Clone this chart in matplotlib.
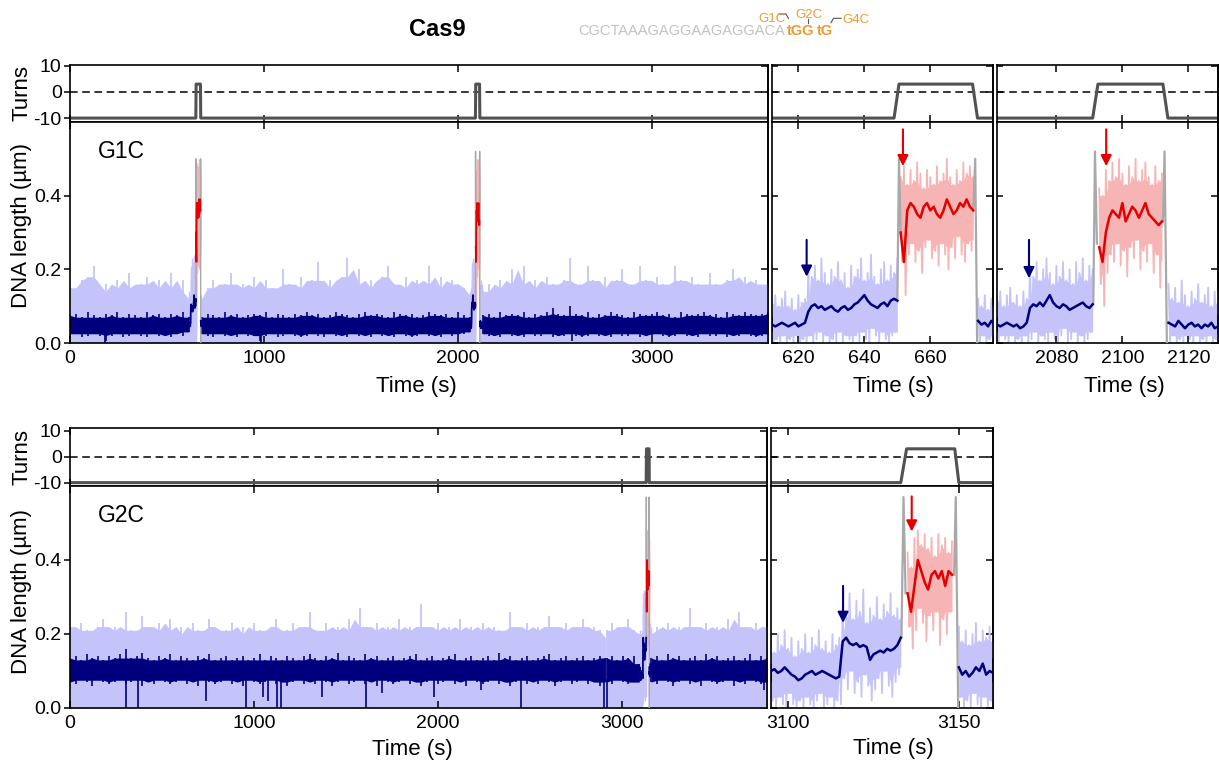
import numpy as np
import matplotlib.pyplot as plt
from matplotlib.lines import Line2D

plt.rcParams['font.family'] = ['Liberation Sans', 'DejaVu Sans']
plt.rcParams['axes.unicode_minus'] = False

W, H = 1219, 763

RAW_BLUE = '#c4c4fb'
NAVY = '#00007f'
RAW_RED = '#f7b4b4'
RED = '#e50000'
GREY = '#a9a9a9'
TURN = '#525252'
ORANGE = '#ee9a30'
SEQ = '#c2c2c2'

# ---------------- data ----------------
seq_grey = 'CGCTAAAGAGGAAGAGGACA'
seq_pam = ['tGG', 'tG']
mut_labels = ['G1C', 'G2C', 'G4C']
panel_labels = ['G1C', 'G2C']

# magnet turns
turns1_t = [0, 649.0, 650.5, 672.8, 674.3, 2091.0, 2092.6, 2112.3, 2113.8, 3600]
turns1_v = [-10, -10, 3, 3, -10, -10, 3, 3, -10, -10]
turns2_t = [0, 3133.0, 3134.7, 3148.8, 3150.0, 3790]
turns2_v = [-10, -10, 3, 3, -10, -10]

# arrows in the zoomed panels: time, tail, tip (navy = binding, red = after supercoiling)
arrow_blue_t = [622.5, 2071.7, 3116.1]
arrow_blue_y = [(0.28, 0.18), (0.28, 0.176), (0.33, 0.23)]
arrow_red_t = [651.7, 2095.1, 3136.2]
arrow_red_y = [(0.58, 0.48), (0.58, 0.48), (0.572, 0.477)]

# G1C long trace: raw upper edge, filtered band low/high (three pieces)
r1_span = [(0, 612), (679.5, 2062), (2129, 3600)]
r1_raw_a = [0.15, 0.13, 0.17, 0.18, 0.21, 0.14, 0.16, 0.13, 0.17, 0.15, 0.19, 0.14, 0.16, 0.18, 0.13,
            0.17, 0.15, 0.19, 0.14, 0.17, 0.12]
r1_lo_a = [0.02, 0.025, 0.015, 0.02, 0.025, 0.02, 0.005, 0.02, 0.025, 0.015, 0.02, 0.025, 0.02, 0.015,
           0.025, 0.02, 0.02, 0.015, 0.025, 0.02, 0.03]
r1_hi_a = [0.075, 0.08, 0.07, 0.085, 0.075, 0.07, 0.08, 0.075, 0.085, 0.07, 0.08, 0.075, 0.07, 0.085,
           0.075, 0.08, 0.07, 0.08, 0.075, 0.085, 0.07]
r1_raw_b = [0.12, 0.15, 0.17, 0.14, 0.16, 0.19, 0.13, 0.16, 0.15, 0.18,
            0.14, 0.17, 0.15, 0.13, 0.20, 0.16, 0.14, 0.18, 0.15, 0.17,
            0.22, 0.15, 0.17, 0.14, 0.18, 0.23, 0.16, 0.20, 0.15, 0.17,
            0.14, 0.18, 0.21, 0.16, 0.15, 0.18, 0.14, 0.17, 0.16, 0.21,
            0.15, 0.18, 0.14, 0.17, 0.16, 0.15, 0.13]
r1_lo_b = [0.025, 0.02, 0.015, 0.025, 0.02, 0.02, 0.015, 0.025, 0.02, 0.02,
           0.005, 0.02, 0.025, 0.015, 0.02, 0.025, 0.02, 0.015, 0.02, 0.025,
           0.02, 0.015, 0.025, 0.02, 0.02, 0.015, 0.025, 0.02, 0.02, 0.015,
           0.025, 0.02, 0.02, 0.015, 0.025, 0.02, 0.015, 0.02, 0.025, 0.02,
           0.02, 0.015, 0.025, 0.02, 0.02, 0.025, 0.03]
r1_hi_b = [0.07, 0.08, 0.075, 0.07, 0.085, 0.075, 0.08, 0.07, 0.075, 0.08,
           0.075, 0.085, 0.07, 0.08, 0.075, 0.07, 0.08, 0.075, 0.085, 0.075,
           0.08, 0.07, 0.075, 0.085, 0.08, 0.075, 0.07, 0.08, 0.085, 0.075,
           0.08, 0.075, 0.07, 0.085, 0.08, 0.075, 0.08, 0.07, 0.075, 0.085,
           0.08, 0.075, 0.08, 0.07, 0.085, 0.075, 0.07]
r1_raw_c = [0.14, 0.16, 0.13, 0.17, 0.15, 0.20, 0.16, 0.21, 0.15, 0.17,
            0.14, 0.18, 0.16, 0.15, 0.17, 0.23, 0.16, 0.14, 0.21, 0.17,
            0.15, 0.18, 0.14, 0.17, 0.20, 0.16, 0.15, 0.21, 0.17, 0.14,
            0.18, 0.16, 0.15, 0.21, 0.17, 0.14, 0.18, 0.16, 0.15, 0.19,
            0.16, 0.14, 0.17, 0.20, 0.15, 0.18, 0.16, 0.17, 0.15, 0.16]
r1_lo_c = [0.025, 0.02, 0.02, 0.015, 0.025, 0.02, 0.02, 0.015, 0.025, 0.02,
           0.02, 0.025, 0.015, 0.02, 0.02, 0.025, 0.02, 0.015, 0.02, 0.025,
           0.02, 0.02, 0.015, 0.025, 0.02, 0.02, 0.025, 0.015, 0.02, 0.02,
           0.025, 0.02, 0.015, 0.02, 0.025, 0.02, 0.02, 0.015, 0.025, 0.02,
           0.02, 0.025, 0.015, 0.02, 0.02, 0.025, 0.02, 0.015, 0.02, 0.025]
r1_hi_c = [0.075, 0.08, 0.07, 0.085, 0.075, 0.08, 0.075, 0.085, 0.07, 0.08,
           0.075, 0.085, 0.095, 0.08, 0.075, 0.10, 0.08, 0.075, 0.085, 0.07,
           0.08, 0.075, 0.085, 0.08, 0.075, 0.07, 0.085, 0.08, 0.075, 0.08,
           0.085, 0.075, 0.08, 0.07, 0.085, 0.08, 0.075, 0.08, 0.085, 0.075,
           0.08, 0.07, 0.085, 0.08, 0.075, 0.085, 0.08, 0.075, 0.08, 0.085]
r1_dip_t = [180, 986, 2590]
r1_dip_v = [0.0, 0.0, 0.005]

# G2C long trace
r2_span = [(0, 2910), (2918, 3095), (3160, 3790)]
r2_raw_a = [0.22, 0.20, 0.23, 0.21, 0.19, 0.22, 0.24, 0.20, 0.22, 0.21,
            0.26, 0.21, 0.20, 0.25, 0.22, 0.20, 0.23, 0.21, 0.24, 0.20,
            0.22, 0.19, 0.23, 0.21, 0.20, 0.24, 0.22, 0.20, 0.21, 0.23,
            0.19, 0.22, 0.20, 0.23, 0.21, 0.20, 0.22, 0.24, 0.20, 0.21,
            0.23, 0.20, 0.22, 0.26, 0.21, 0.20, 0.23, 0.21, 0.22, 0.20,
            0.24, 0.21, 0.27, 0.22, 0.20, 0.23, 0.21, 0.22, 0.20, 0.24,
            0.21, 0.22, 0.20, 0.28, 0.22, 0.21, 0.23, 0.20, 0.22, 0.21,
            0.24, 0.20, 0.22, 0.21, 0.23, 0.20, 0.22, 0.21, 0.20, 0.26,
            0.22, 0.21, 0.23, 0.20, 0.22, 0.21, 0.25, 0.22, 0.20, 0.23,
            0.21, 0.22, 0.24, 0.20, 0.22, 0.21, 0.19]
r2_lo_a = [0.07, 0.065, 0.075, 0.07, 0.06, 0.075, 0.07, 0.065, 0.07, 0.075,
           0.065, 0.07, 0.075, 0.06, 0.07, 0.065, 0.075, 0.07, 0.065, 0.07,
           0.075, 0.065, 0.07, 0.06, 0.075, 0.07, 0.065, 0.07, 0.075, 0.065,
           0.07, 0.06, 0.075, 0.07, 0.065, 0.07, 0.075, 0.065, 0.07, 0.06,
           0.07, 0.075, 0.065, 0.07, 0.065, 0.075, 0.07, 0.06, 0.07, 0.075,
           0.065, 0.07, 0.075, 0.065, 0.07, 0.06, 0.075, 0.07, 0.065, 0.07,
           0.075, 0.065, 0.07, 0.06, 0.07, 0.075, 0.065, 0.07, 0.075, 0.065,
           0.07, 0.06, 0.075, 0.07, 0.065, 0.07, 0.075, 0.065, 0.07, 0.06,
           0.07, 0.075, 0.065, 0.07, 0.065, 0.075, 0.07, 0.06, 0.07, 0.075,
           0.065, 0.07, 0.075, 0.065, 0.07, 0.06, 0.07]
r2_hi_a = [0.135, 0.14, 0.13, 0.145, 0.135, 0.14, 0.13, 0.14, 0.135, 0.145,
           0.16, 0.135, 0.14, 0.15, 0.135, 0.13, 0.14, 0.135, 0.145, 0.13,
           0.14, 0.135, 0.13, 0.14, 0.135, 0.145, 0.13, 0.135, 0.14, 0.13,
           0.135, 0.14, 0.13, 0.135, 0.145, 0.13, 0.14, 0.135, 0.13, 0.14,
           0.135, 0.13, 0.14, 0.145, 0.135, 0.13, 0.14, 0.135, 0.15, 0.13,
           0.14, 0.135, 0.13, 0.145, 0.135, 0.14, 0.13, 0.135, 0.14, 0.13,
           0.135, 0.14, 0.145, 0.13, 0.135, 0.14, 0.13, 0.135, 0.14, 0.145,
           0.13, 0.135, 0.14, 0.13, 0.135, 0.14, 0.13, 0.15, 0.135, 0.14,
           0.13, 0.135, 0.14, 0.13, 0.135, 0.14, 0.145, 0.13, 0.135, 0.14,
           0.13, 0.135, 0.14, 0.13, 0.135, 0.14, 0.135]
r2_raw_b = [0.21, 0.23, 0.20, 0.22, 0.24, 0.21, 0.20]
r2_lo_b = [0.07, 0.065, 0.075, 0.07, 0.065, 0.07, 0.07]
r2_hi_b = [0.135, 0.14, 0.13, 0.14, 0.135, 0.14, 0.12]
r2_raw_c = [0.20, 0.22, 0.21, 0.23, 0.20, 0.22, 0.21, 0.27, 0.22, 0.20, 0.23,
            0.21, 0.22, 0.20, 0.24, 0.21, 0.26, 0.22, 0.20, 0.23, 0.21, 0.22]
r2_lo_c = [0.07, 0.065, 0.075, 0.07, 0.06, 0.07, 0.075, 0.065, 0.07, 0.06, 0.075,
           0.07, 0.065, 0.07, 0.075, 0.06, 0.07, 0.065, 0.075, 0.07, 0.065, 0.07]
r2_hi_c = [0.135, 0.14, 0.13, 0.145, 0.135, 0.14, 0.13, 0.135, 0.14, 0.13, 0.145,
           0.135, 0.14, 0.13, 0.135, 0.14, 0.13, 0.135, 0.145, 0.13, 0.14, 0.135]
r2_dip_t = [304, 371, 737, 957, 1051, 1078, 1123, 1150, 1368, 1612, 1694, 1977, 2236, 2453, 2906, 2921, 3775]
r2_dip_v = [0.0, 0.0, 0.02, 0.0, 0.03, 0.02, 0.0, 0.0, 0.03, 0.0, 0.04, 0.03, 0.05, 0.0, 0.0, 0.0, 0.05]

# event 1 (G1C, ~650 s), 1 s samples: filtered value, raw low, raw high
e1_pre_t = np.arange(612, 651)
e1_pre_y = [0.05, 0.045, 0.05, 0.055, 0.05, 0.045, 0.05, 0.055, 0.045, 0.05, 0.055, 0.085, 0.10,
            0.105, 0.095, 0.10, 0.09, 0.095, 0.10, 0.09, 0.085, 0.095, 0.10, 0.09, 0.095, 0.105,
            0.11, 0.12, 0.13, 0.115, 0.105, 0.10, 0.095, 0.105, 0.11, 0.10, 0.115, 0.12, 0.115]
e1_pre_lo = [0.0, 0.01, 0.0, 0.02, 0.0, 0.01, 0.0, 0.02, 0.0, 0.01, 0.0, 0.02, 0.0, 0.01, 0.03,
             0.0, 0.02, 0.0, 0.01, 0.0, 0.03, 0.0, 0.02, 0.01, 0.0, 0.02, 0.0, 0.03, 0.01, 0.0,
             0.04, 0.02, 0.0, 0.03, 0.01, 0.0, 0.02, 0.03, 0.0]
e1_pre_hi = [0.11, 0.13, 0.10, 0.12, 0.14, 0.10, 0.12, 0.09, 0.13, 0.11, 0.12, 0.20, 0.18, 0.21,
             0.17, 0.23, 0.19, 0.16, 0.20, 0.18, 0.22, 0.17, 0.19, 0.15, 0.21, 0.18, 0.20, 0.23,
             0.17, 0.19, 0.24, 0.18, 0.16, 0.20, 0.22, 0.17, 0.21, 0.19, 0.23]
e1_up_t = [650.0, 650.5, 651.0]
e1_up_y = [0.115, 0.50, 0.30]
e1_red_t = np.arange(651, 674)
e1_red_y = [0.30, 0.22, 0.36, 0.38, 0.37, 0.35, 0.34, 0.37, 0.38, 0.36, 0.37, 0.35, 0.34, 0.36,
            0.39, 0.37, 0.35, 0.36, 0.38, 0.37, 0.39, 0.37, 0.36]
e1_red_lo = [0.22, 0.13, 0.24, 0.27, 0.22, 0.25, 0.19, 0.26, 0.28, 0.23, 0.25, 0.21, 0.27, 0.24,
             0.20, 0.26, 0.23, 0.29, 0.24, 0.22, 0.27, 0.25, 0.28]
e1_red_hi = [0.45, 0.48, 0.43, 0.47, 0.44, 0.49, 0.46, 0.42, 0.47, 0.45, 0.43, 0.48, 0.44, 0.46,
             0.50, 0.45, 0.43, 0.47, 0.44, 0.49, 0.46, 0.48, 0.45]
e1_down_t = [673.0, 673.6, 674.2]
e1_down_y = [0.36, 0.50, 0.0]
e1_post_t = np.arange(674.5, 680)
e1_post_y = [0.06, 0.05, 0.055, 0.045, 0.06, 0.05]
e1_post_lo = [0.0, 0.02, 0.0, 0.01, 0.0, 0.02]
e1_post_hi = [0.12, 0.10, 0.13, 0.09, 0.12, 0.11]

# event 2 (G1C, ~2100 s)
e2_pre_t = np.arange(2062, 2092)
e2_pre_y = [0.05, 0.045, 0.05, 0.055, 0.05, 0.045, 0.05, 0.04, 0.045, 0.055,
            0.095, 0.105, 0.10, 0.11, 0.10, 0.115, 0.13, 0.11, 0.10, 0.095,
            0.105, 0.10, 0.09, 0.095, 0.10, 0.105, 0.11, 0.10, 0.095, 0.105]
e2_pre_lo = [0.0, 0.02, 0.01, 0.0, 0.02, 0.0, 0.01, 0.0, 0.02, 0.0, 0.01, 0.03, 0.0, 0.02, 0.01,
             0.0, 0.03, 0.01, 0.0, 0.02, 0.04, 0.0, 0.01, 0.03, 0.0, 0.02, 0.0, 0.01, 0.03, 0.0]
e2_pre_hi = [0.12, 0.14, 0.10, 0.13, 0.15, 0.11, 0.13, 0.10, 0.14, 0.12, 0.21, 0.18, 0.22, 0.17,
             0.20, 0.23, 0.19, 0.16, 0.21, 0.18, 0.22, 0.17, 0.20, 0.16, 0.22, 0.19, 0.23, 0.17,
             0.21, 0.20]
e2_up_t = [2091.2, 2091.7, 2092.3]
e2_up_y = [0.105, 0.52, 0.27]
e2_red_t = np.arange(2093, 2113)
e2_red_y = [0.26, 0.22, 0.30, 0.34, 0.36, 0.35, 0.34, 0.38, 0.33, 0.35, 0.37, 0.36, 0.34, 0.36,
            0.38, 0.35, 0.34, 0.33, 0.32, 0.33]
e2_red_lo = [0.16, 0.10, 0.19, 0.24, 0.22, 0.27, 0.21, 0.25, 0.18, 0.26, 0.23, 0.28, 0.20, 0.25,
             0.22, 0.27, 0.19, 0.24, 0.15, 0.22]
e2_red_hi = [0.42, 0.40, 0.47, 0.44, 0.49, 0.45, 0.50, 0.46, 0.43, 0.48, 0.45, 0.50, 0.44, 0.47,
             0.49, 0.45, 0.43, 0.48, 0.44, 0.46]
e2_down_t = [2112.3, 2112.8, 2113.5]
e2_down_y = [0.33, 0.52, 0.0]
e2_post_t = np.arange(2114, 2130)
e2_post_y = [0.055, 0.05, 0.045, 0.06, 0.05, 0.04, 0.05, 0.055, 0.045, 0.05, 0.04, 0.05, 0.045,
             0.055, 0.04, 0.045]
e2_post_lo = [0.0, 0.02, 0.0, 0.01, 0.0, 0.02, 0.01, 0.0, 0.02, 0.0, 0.01, 0.0, 0.02, 0.0, 0.01, 0.0]
e2_post_hi = [0.16, 0.12, 0.15, 0.11, 0.17, 0.13, 0.10, 0.14, 0.12, 0.16, 0.11, 0.13, 0.15, 0.10,
              0.14, 0.12]

# event 3 (G2C, ~3140 s)
e3_pre_t = np.arange(3095, 3134)
e3_pre_y = [0.10, 0.105, 0.095, 0.10, 0.11, 0.10, 0.09, 0.085, 0.075, 0.08, 0.09, 0.095, 0.10,
            0.09, 0.095, 0.10, 0.095, 0.09, 0.085, 0.08, 0.085,
            0.18, 0.19, 0.175, 0.17, 0.175, 0.165, 0.17, 0.165, 0.13, 0.145, 0.15, 0.155, 0.15,
            0.16, 0.155, 0.16, 0.17, 0.19]
e3_pre_lo = [0.02, 0.0, 0.03, 0.01, 0.0, 0.04, 0.01, 0.0, 0.02, 0.0, 0.03, 0.01, 0.0, 0.02, 0.04,
             0.0, 0.01, 0.03, 0.0, 0.02, 0.01,
             0.08, 0.05, 0.10, 0.04, 0.07, 0.03, 0.09, 0.06, 0.02, 0.05, 0.08, 0.04, 0.10, 0.06,
             0.03, 0.07, 0.09, 0.11]
e3_pre_hi = [0.18, 0.15, 0.20, 0.17, 0.21, 0.16, 0.19, 0.14, 0.18, 0.16, 0.20, 0.15, 0.19, 0.17,
             0.21, 0.16, 0.18, 0.15, 0.20, 0.17, 0.19,
             0.28, 0.25, 0.31, 0.24, 0.29, 0.26, 0.32, 0.23, 0.27, 0.25, 0.30, 0.24, 0.28, 0.26,
             0.31, 0.25, 0.27, 0.24]
e3_up_t = [3133.2, 3133.8, 3134.4]
e3_up_y = [0.19, 0.57, 0.31]
e3_red_t = np.arange(3135, 3149)
e3_red_y = [0.31, 0.26, 0.33, 0.40, 0.37, 0.34, 0.32, 0.36, 0.37, 0.35, 0.37, 0.33, 0.37, 0.36]
e3_red_lo = [0.22, 0.16, 0.21, 0.27, 0.23, 0.18, 0.25, 0.21, 0.26, 0.17, 0.24, 0.20, 0.26, 0.23]
e3_red_hi = [0.42, 0.38, 0.46, 0.48, 0.44, 0.47, 0.43, 0.46, 0.41, 0.47, 0.44, 0.46, 0.42, 0.45]
e3_down_t = [3148.6, 3149.1, 3149.8]
e3_down_y = [0.36, 0.57, 0.0]
e3_post_t = np.arange(3150, 3161)
e3_post_y = [0.11, 0.09, 0.10, 0.085, 0.095, 0.11, 0.10, 0.12, 0.09, 0.10, 0.095]
e3_post_lo = [0.03, 0.0, 0.02, 0.0, 0.04, 0.01, 0.0, 0.03, 0.0, 0.02, 0.01]
e3_post_hi = [0.22, 0.18, 0.21, 0.17, 0.20, 0.23, 0.18, 0.21, 0.19, 0.22, 0.18]

# ---------------- drawing ----------------
r1_pieces = list(zip(r1_span, [r1_raw_a, r1_raw_b, r1_raw_c], [r1_lo_a, r1_lo_b, r1_lo_c],
                     [r1_hi_a, r1_hi_b, r1_hi_c]))
r2_pieces = list(zip(r2_span, [r2_raw_a, r2_raw_b, r2_raw_c], [r2_lo_a, r2_lo_b, r2_lo_c],
                     [r2_hi_a, r2_hi_b, r2_hi_c]))
ev1 = dict(pre=(e1_pre_t, e1_pre_y, e1_pre_lo, e1_pre_hi), up=(e1_up_t, e1_up_y),
           red=(e1_red_t, e1_red_y, e1_red_lo, e1_red_hi), down=(e1_down_t, e1_down_y),
           post=(e1_post_t, e1_post_y, e1_post_lo, e1_post_hi))
ev2 = dict(pre=(e2_pre_t, e2_pre_y, e2_pre_lo, e2_pre_hi), up=(e2_up_t, e2_up_y),
           red=(e2_red_t, e2_red_y, e2_red_lo, e2_red_hi), down=(e2_down_t, e2_down_y),
           post=(e2_post_t, e2_post_y, e2_post_lo, e2_post_hi))
ev3 = dict(pre=(e3_pre_t, e3_pre_y, e3_pre_lo, e3_pre_hi), up=(e3_up_t, e3_up_y),
           red=(e3_red_t, e3_red_y, e3_red_lo, e3_red_hi), down=(e3_down_t, e3_down_y),
           post=(e3_post_t, e3_post_y, e3_post_lo, e3_post_hi))


def fx(px):
    return px / W


def fy(py):
    return 1 - py / H


def box(x0, x1, y0, y1):
    return [fx(x0), fy(y1), (x1 - x0) / W, (y1 - y0) / H]


def core_band(lo, hi, k):
    lo = np.asarray(lo, float)
    hi = np.asarray(hi, float)
    hp = np.pad(hi, 1, mode='edge')
    lp = np.pad(lo, 1, mode='edge')
    hs = np.sort(np.vstack([hp[:-2], hp[1:-1], hp[2:]]), axis=0)
    ls = np.sort(np.vstack([lp[:-2], lp[1:-1], lp[2:]]), axis=0)
    c_lo = ls[2 - k]
    return c_lo, np.maximum(hs[k], c_lo)


def spiky(ax, t, lo, hi, color, lw, z, k=1):
    # solid core band plus one thin stroke per sample, so the edges look like noise
    c_lo, c_hi = core_band(lo, hi, k)
    ax.fill_between(t, c_lo, c_hi, color=color, lw=0, zorder=z)
    ax.vlines(t, lo, hi, color=color, lw=lw, zorder=z)


def zigzag(ax, t, lo, hi, color, z):
    # zoomed raw trace: core band plus a line that swings between the low and high values
    c_lo, c_hi = core_band(lo, hi, 0)
    ax.fill_between(t, c_lo, c_hi, color=color, lw=0, zorder=z)
    t = np.asarray(t, float)
    xs = np.ravel(np.column_stack([t, t + 0.5]))[:-1]
    ys = np.ravel(np.column_stack([hi, lo]))[:-1]
    ax.plot(xs, ys, color=color, lw=1.3, zorder=z)


def draw_trace(ax, pieces, events, dip_t, dip_v, long_view):
    lw_line = 1.3 if long_view else 1.8
    lw_grey = 1.0 if long_view else 1.6
    for span, raw_hi, lo, hi in pieces:
        t = np.linspace(span[0], span[1], len(raw_hi))
        spiky(ax, t, np.zeros(len(raw_hi)), raw_hi, RAW_BLUE, 1.3, 1, 1)
        spiky(ax, t, lo, hi, NAVY, 1.2, 2, 0)
    top = np.mean(np.concatenate([p[2] for p in pieces])) + 0.01
    ax.vlines(dip_t, dip_v, top, color=NAVY, lw=1.2, zorder=2)
    for ev in events:
        for key, c_raw, c_line in (('pre', RAW_BLUE, NAVY), ('red', RAW_RED, RED),
                                   ('post', RAW_BLUE, NAVY)):
            t, y, lo, hi = ev[key]
            if long_view:
                spiky(ax, t, lo, hi, c_raw, 1.0, 1, 0)
            else:
                zigzag(ax, t, lo, hi, c_raw, 1)
            ax.plot(t, y, color=c_line, lw=lw_line, zorder=3.5)
        for key in ('up', 'down'):
            t, y = ev[key]
            ax.plot(t, y, color=GREY, lw=lw_grey, zorder=3)


def draw_arrows(ax):
    for ts, ys, c in ((arrow_blue_t, arrow_blue_y, NAVY), (arrow_red_t, arrow_red_y, RED)):
        for t, (tail, tip) in zip(ts, ys):
            ax.annotate('', xy=(t, tip), xytext=(t, tail), zorder=5,
                        arrowprops=dict(arrowstyle='-|>', color=c, lw=1.5,
                                        mutation_scale=16, shrinkA=0, shrinkB=0))


def draw_turns(ax, t, v):
    ax.axhline(0, color='black', lw=1.1, ls=(0, (5, 3)), zorder=1)
    ax.plot(t, v, color=TURN, lw=2.2, zorder=2)


def setup(ax, xlim, ylim, xticks, yticks, xlabels, ylabels):
    ax.set_xlim(xlim)
    ax.set_ylim(ylim)
    ax.set_xticks(xticks)
    ax.set_yticks(yticks)
    ax.tick_params(axis='x', direction='in', top=True, bottom=True, length=5, width=1.1,
                   labelsize=14, pad=5, labelbottom=xlabels)
    ax.tick_params(axis='y', direction='out' if ylabels else 'in', left=True, right=False,
                   length=4, width=1.1, labelsize=14, pad=2, labelleft=ylabels)
    sec = ax.secondary_yaxis('right')
    sec.set_yticks(yticks)
    sec.set_yticklabels([])
    sec.tick_params(direction='in', length=5, width=1.1)
    sec.spines['right'].set_linewidth(1.2)
    for s in ax.spines.values():
        s.set_linewidth(1.2)


fig = plt.figure(figsize=(W / 100, H / 100), dpi=100)

dna_ylim = (0, 0.6)
dna_ticks = [0.0, 0.2, 0.4]
turn_ticks = [-10, 0, 10]

# row 1 -------------------------------------------------------------
cols1 = [((70, 768), (0, 3600), [0, 1000, 2000, 3000], True),
         ((772, 993), (612, 679), [620, 640, 660], False),
         ((997, 1218), (2062, 2129), [2080, 2100, 2120], False)]
for (x0, x1), xlim, xt, left in cols1:
    at = fig.add_axes(box(x0, x1, 65, 122))
    draw_turns(at, turns1_t, turns1_v)
    setup(at, xlim, (-11.5, 10.3), xt, turn_ticks, False, left)
    ad = fig.add_axes(box(x0, x1, 122, 343))
    draw_trace(ad, r1_pieces, [ev1, ev2], r1_dip_t, r1_dip_v, left)
    setup(ad, xlim, dna_ylim, xt, dna_ticks, True, left)
    if left:
        ad.text(0.04, 0.837, panel_labels[0], transform=ad.transAxes, fontsize=16.5, va='baseline')
    else:
        draw_arrows(ad)

# row 2 -------------------------------------------------------------
cols2 = [((70, 767), (0, 3790), [0, 1000, 2000, 3000], True),
         ((771, 993), (3095, 3160), [3100, 3150], False)]
for (x0, x1), xlim, xt, left in cols2:
    at = fig.add_axes(box(x0, x1, 428, 486))
    draw_turns(at, turns2_t, turns2_v)
    setup(at, xlim, (-11.3, 11.0), xt, turn_ticks, False, left)
    ad = fig.add_axes(box(x0, x1, 486, 708))
    draw_trace(ad, r2_pieces, [ev3], r2_dip_t, r2_dip_v, left)
    setup(ad, xlim, dna_ylim, xt, dna_ticks, True, left)
    if left:
        ad.text(0.04, 0.839, panel_labels[1], transform=ad.transAxes, fontsize=16.5, va='baseline')
    else:
        draw_arrows(ad)

# axis labels
for py, txt in [(93, 'Turns'), (226, 'DNA length (µm)'), (457, 'Turns'), (591, 'DNA length (µm)')]:
    fig.text(fx(22), fy(py), txt, rotation=90, ha='center', va='center', fontsize=16)
for px, py in [(416, 392), (893, 392), (1124, 392), (412, 755), (893, 754)]:
    fig.text(fx(px), fy(py), 'Time (s)', ha='center', va='baseline', fontsize=16)

# header
fig.text(fx(437), fy(36), 'Cas9', ha='center', va='baseline', fontsize=17, fontweight='bold')
fig.text(fx(785), fy(35), seq_grey, ha='right', va='baseline', fontsize=10.5, color=SEQ)
fig.text(fx(787), fy(35), seq_pam[0], ha='left', va='baseline', fontsize=10.5,
         fontweight='bold', color=ORANGE)
fig.text(fx(817), fy(35), seq_pam[1], ha='left', va='baseline', fontsize=10.5,
         fontweight='bold', color=ORANGE)
for (px, py), lab in zip([(758, 21.7), (795, 18.3), (842, 22.7)], mut_labels):
    fig.text(fx(px), fy(py), lab, ha='left', va='baseline', fontsize=9.5, color=ORANGE)
for xs, ys in [([779, 786, 788.5], [14, 14, 18.5]), ([808.3, 808.3], [19.3, 23.3]),
               ([841, 833.5, 831], [18.3, 18.3, 22.7])]:
    fig.add_artist(Line2D([fx(x) for x in xs], [fy(y) for y in ys], color='#555555', lw=0.8,
                          transform=fig.transFigure))

fig.savefig('out.png', dpi=100)
